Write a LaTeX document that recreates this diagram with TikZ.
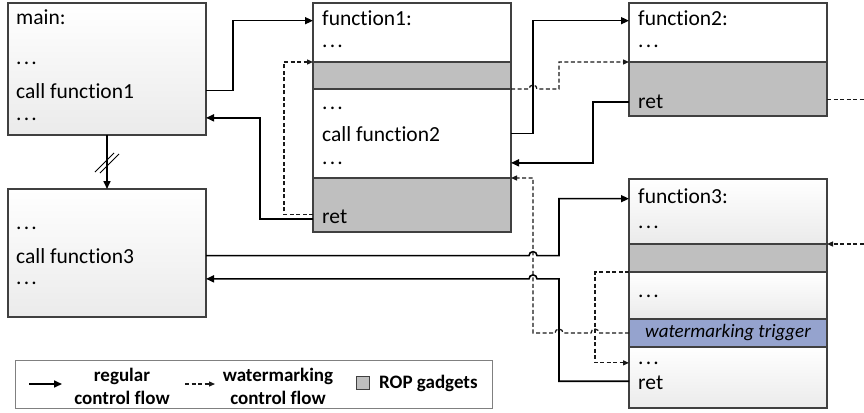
\documentclass[tikz,border=0pt]{standalone}
\usepackage{fontspec}
\setmainfont{Carlito}[Ligatures=NoCommon]
\usetikzlibrary{arrows.meta, positioning, calc}

\definecolor{boxline}{RGB}{64,64,64}
\definecolor{gadgetgray}{RGB}{191,191,191}
\definecolor{triggerblue}{RGB}{149,163,206}
\definecolor{legendline}{RGB}{128,128,128}
\newcommand{\codedots}{.\kern2.2pt.\kern2.2pt.}

\begin{document}
\begin{tikzpicture}[x=1pt, y=-1pt, node distance=0pt,
        sect/.style={draw=boxline, line width=1.3pt, minimum width=198pt, inner sep=0pt, outer sep=0pt},
        plain/.style={sect, fill=white},
        faded/.style={sect, top color=white, bottom color=black!8},
        gadget/.style={sect, fill=gadgetgray},
        trigger/.style={sect, fill=triggerblue, font=\fontsize{19}{22}\selectfont\itshape},
        code/.style={anchor=base west, inner sep=0pt, font=\fontsize{21.5}{25}\selectfont},
        flow/.style={line width=1.6pt, -{Triangle[length=8pt, width=7pt]}},
        wmflow/.style={line width=1.25pt, draw=black!90, dash pattern=on 4pt off 2.5pt, -{Triangle[length=6pt, width=5pt]}},
        legtext/.style={font=\fontsize{19}{23}\selectfont\bfseries, align=center, inner sep=0pt}]
                \useasboundingbox (0,0) rectangle (864,412);
                \clip (0,0) rectangle (864,412);

                % caller blocks
                \node[faded, anchor=north west, minimum height=132pt] (main) at (8,3) {};
                \node[faded, anchor=north west, minimum height=128pt] (cont) at (8,189) {};
                \node[code] (maintitle) at (16,25) {main:};
                \node[code] (maindotsA) at (16,65) {\codedots};
                \node[code] (maincall) at (16,98) {call function1};
                \node[code] (maindotsB) at (16,120) {\codedots};
                \node[code] (contdotsA) at (16,229) {\codedots};
                \node[code] (contcall) at (16,263) {call function3};
                \node[code] (contdotsB) at (16,284) {\codedots};

                % function1
                \node[plain, anchor=north west, minimum height=59pt] (fonetop) at (313,3) {};
                \node[gadget, minimum height=27pt, below=of fonetop] (fonegadA) {};
                \node[plain, minimum height=89pt, below=of fonegadA] (fonebody) {};
                \node[gadget, minimum height=54pt, below=of fonebody] (fonegadB) {};
                \node[code] (fonetitle) at (322,26) {function1:};
                \node[code] (fonedotsA) at (322,48) {\codedots};
                \node[code] (fonedotsB) at (322,109) {\codedots};
                \node[code] (fonecall) at (322,141) {call function2};
                \node[code] (fonedotsC) at (322,164) {\codedots};
                \node[code] (foneret) at (322,223) {ret};

                % function2
                \node[plain, anchor=north west, minimum height=59pt] (ftwotop) at (629,3) {};
                \node[gadget, minimum height=54pt, below=of ftwotop] (ftworet) {};
                \node[code] (ftwotitle) at (638,26) {function2:};
                \node[code] (ftwodots) at (638,48) {\codedots};
                \node[code] (ftworetlabel) at (638,108) {ret};

                % function3
                \node[faded, anchor=north west, minimum height=65pt] (fthreetop) at (629,179) {};
                \node[gadget, minimum height=28pt, below=of fthreetop] (fthreegad) {};
                \node[faded, minimum height=47pt, below=of fthreegad] (fthreemid) {};
                \node[trigger, minimum height=28pt, below=of fthreemid] (fthreetrig) {watermarking trigger};
                \node[faded, minimum height=61pt, below=of fthreetrig] (fthreeend) {};
                \node[code] (fthreetitle) at (638,203) {function3:};
                \node[code] (fthreedotsA) at (638,228) {\codedots};
                \node[code] (fthreedotsB) at (638,297) {\codedots};
                \node[code] (fthreedotsC) at (638,364) {\codedots};
                \node[code] (fthreeret) at (638,389) {ret};

                % regular control flow
                \draw[flow] (main.south) -- (cont.north);
                \coordinate (brk) at ($(main.south)!0.5!(cont.north)$);
                \draw[line width=1pt] ($(brk)+(-12,10)$) -- ++(19,-19);
                \draw[line width=1pt] ($(brk)+(-7,11)$) -- ++(19,-19);
                \draw[flow] (main.east |- maincall) -- ++(27,0) |- ($(fonetop.west |- fonetitle)+(0,2)$);
                \draw[flow] ($(fonegadB.west |- foneret)+(0,2.5)$) -- ++(-53,0) |- ($(main.east |- maindotsB)+(0,-1)$);
                \draw[flow] (fonebody.east |- fonecall) -- ++(22,0) |- ($(ftwotop.west |- ftwotitle)+(0,2)$);
                \draw[flow] ($(ftworet.west |- ftworetlabel)+(0,1)$) -- ++(-36,0) |- (fonebody.east |- fonedotsC);
                \draw[flow] (cont.east |- contcall) -- ++(323,0) arc[start angle=180, end angle=360, radius=4]
                        -- ++(22,0) |- ($(fthreetop.west |- fthreetitle)+(0,3)$);
                \coordinate (contin) at ($(cont.east |- contdotsB)+(0,-4)$);
                \draw[flow] ($(fthreeend.west |- fthreeret)+(0,-1)$) -- ++(-70,0) |- ($(contin)+(331,0)$)
                        arc[start angle=0, end angle=-180, radius=4] -- (contin);

                % watermarking control flow
                \draw[wmflow] ($(fonegadB.west |- foneret)+(0,-1.5)$) -- ++(-29,0) |- (fonegadA.north west);
                \draw[wmflow] (fonegadA.south east) -- ++(18,0) arc[start angle=180, end angle=360, radius=4]
                        -- ++(22,0) |- (ftworet.north west);
                \draw[wmflow] ($(ftworet.east |- ftworetlabel)+(0,-2)$) -- ++(50,0) |- (fthreegad.north east);
                \draw[wmflow] (fthreegad.south west) -- ++(-34,0) |- (fthreeend.west |- fthreedotsC);
                \draw[wmflow] (fthreetrig.west) -- ++(-30,0) arc[start angle=0, end angle=-180, radius=4]
                        -- ++(-28,0) arc[start angle=0, end angle=-180, radius=4]
                        -- ++(-22,0) |- (fonegadB.north east);

                % legend
                \node[draw=legendline, line width=1pt, fill=white, anchor=north west, minimum width=477pt, minimum height=48pt, inner sep=0pt] (legend) at (15,360) {};
                \coordinate (legregA) at (29,384);
                \coordinate (legregB) at (62,384);
                \draw[flow] (legregA) -- (legregB);
                \node[legtext] (legregtext) at (122,386) {regular\\control flow};
                \coordinate (legwmA) at (185,384);
                \coordinate (legwmB) at (215,384);
                \draw[wmflow] (legwmA) -- (legwmB);
                \node[legtext] (legwmtext) at (278,386) {watermarking\\control flow};
                \node[gadget, minimum width=13pt, minimum height=13pt, line width=1pt] (legsquare) at (363,383) {};
                \node[legtext, anchor=west] (legroptext) at (379,383) {ROP gadgets};
        \end{tikzpicture}
\end{document}
